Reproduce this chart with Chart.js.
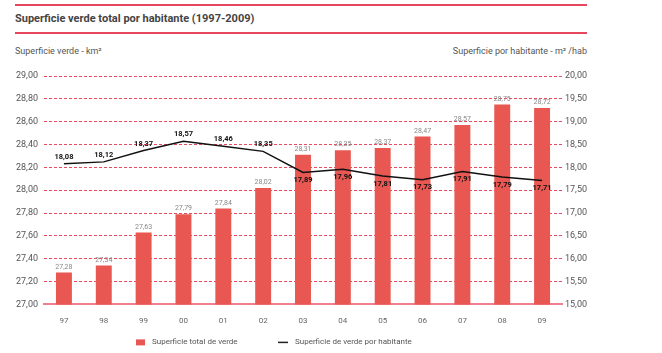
<!DOCTYPE html>
<html>
<head>
<meta charset="utf-8">
<script src="https://cdn.jsdelivr.net/npm/chart.js@4/dist/chart.umd.min.js"></script>
<style>
  html, body { margin: 0; padding: 0; background: #fff; }
  body { width: 662px; height: 353px; position: relative; overflow: hidden; font-family: Roboto, "Open Sans", sans-serif; }
  .rule { position: absolute; left: 15px; width: 572px; height: 2px; background: #e8465c; }
  #title { position: absolute; left: 15px; top: 12px; font-size: 11px; font-weight: bold; color: #444; }
  .axt { position: absolute; top: 46px; font-size: 9px; color: #555; }
  #wrap { position: absolute; left: 0; top: 0; width: 662px; height: 353px; }
</style>
</head>
<body>
<div class="rule" style="top:4px"></div>
<div id="title">Superficie verde total por habitante (1997-2009)</div>
<div class="rule" style="top:32px"></div>
<div class="axt" style="left:15px">Superficie verde - km²</div>
<div class="axt" style="right:75px">Superficie por habitante - m² /hab</div>
<div id="wrap"><canvas id="myChart" width="662" height="353"></canvas></div>
<script>
// x axis labels
var years = ['97','98','99','00','01','02','03','04','05','06','07','08','09'];
// total green surface (km2)
var verde = [27.28, 27.34, 27.63, 27.79, 27.84, 28.02, 28.31, 28.35, 28.37, 28.47, 28.57, 28.75, 28.72];
// green surface per inhabitant (m2/hab)
var porHab = [18.08, 18.12, 18.37, 18.57, 18.46, 18.35, 17.89, 17.96, 17.81, 17.73, 17.91, 17.79, 17.71];

var barColor = '#e85751';

function fmt(v) { return v.toFixed(2).replace('.', ','); }

// draws the value labels over bars and beside line points
var valueLabels = {
  id: 'valueLabels',
  afterDatasetsDraw: function(chart) {
    var ctx = chart.ctx;
    ctx.save();
    ctx.textAlign = 'center';
    var bars = chart.getDatasetMeta(0).data;
    ctx.font = '7px Roboto, sans-serif';
    ctx.fillStyle = '#888';
    ctx.textBaseline = 'bottom';
    bars.forEach(function(b, i) {
      ctx.fillText(fmt(verde[i]), b.x, b.y - 2);
    });
    var pts = chart.getDatasetMeta(1).data;
    ctx.font = 'bold 7.5px Roboto, sans-serif';
    ctx.fillStyle = '#111';
    pts.forEach(function(p, i) {
      if (i < 6) {
        ctx.textBaseline = 'bottom';
        ctx.fillText(fmt(porHab[i]), p.x, p.y - 3);
      } else {
        ctx.textBaseline = 'top';
        ctx.fillText(fmt(porHab[i]), p.x, p.y + 4);
      }
    });
    ctx.restore();
  }
};

// legend below the x axis, offset to the left like the original
var bottomLegend = {
  id: 'bottomLegend',
  afterDraw: function(chart) {
    var ctx = chart.ctx;
    var a = chart.chartArea;
    var y = a.bottom + 38;
    var x0 = a.left + 92;
    ctx.save();
    ctx.fillStyle = barColor;
    ctx.fillRect(x0, y - 3, 9, 6);
    ctx.font = '8px Roboto, sans-serif';
    ctx.fillStyle = '#555';
    ctx.textBaseline = 'middle';
    ctx.fillText('Superficie total de verde', x0 + 16, y);
    var x1 = x0 + 142;
    ctx.strokeStyle = '#222';
    ctx.lineWidth = 1.5;
    ctx.beginPath();
    ctx.moveTo(x1, y);
    ctx.lineTo(x1 + 10, y);
    ctx.stroke();
    ctx.fillText('Superficie de verde por habitante', x1 + 17, y);
    ctx.restore();
  }
};

Chart.defaults.font.family = 'Roboto, "Open Sans", sans-serif';
Chart.defaults.color = '#555';

var ctx = document.getElementById('myChart');
var myChart = new Chart(ctx, {
  data: {
    labels: years,
    datasets: [
      {
        type: 'bar',
        label: 'Superficie total de verde',
        data: verde,
        backgroundColor: barColor,
        yAxisID: 'y',
        categoryPercentage: 0.8,
        barPercentage: 0.5,
        order: 2
      },
      {
        type: 'line',
        label: 'Superficie de verde por habitante',
        data: porHab,
        borderColor: '#111',
        backgroundColor: '#111',
        borderWidth: 1.5,
        pointRadius: 0,
        tension: 0,
        yAxisID: 'y1',
        order: 1
      }
    ]
  },
  options: {
    responsive: false,
    animation: false,
    layout: { padding: { left: 15, right: 75, top: 76, bottom: 15 } },
    plugins: {
      tooltip: { enabled: false },
      legend: { display: false }
    },
    scales: {
      x: {
        grid: { display: false, drawTicks: false },
        border: { display: true, color: '#f27f8f', width: 2 },
        ticks: { color: '#666', font: { size: 8 }, padding: 12, maxRotation: 0, autoSkip: false }
      },
      y: {
        position: 'left',
        min: 27, max: 29,
        afterFit: function(s) { s.width = 29; },
        border: { display: false, dash: [3, 2] },
        grid: {
          drawTicks: false,
          color: function(c) { return c.tick && c.tick.value === 27 ? 'rgba(0,0,0,0)' : '#ea4a60'; },
          lineWidth: 1
        },
        ticks: { stepSize: 0.2, padding: 6, color: '#555', font: { size: 9 }, callback: function(v) { return fmt(v); } }
      },
      y1: {
        position: 'right',
        min: 15, max: 20,
        afterFit: function(s) { s.width = 25; },
        border: { display: false },
        grid: { display: false, drawTicks: false },
        ticks: { stepSize: 0.5, padding: 3, color: '#555', font: { size: 9 }, callback: function(v) { return fmt(v); } }
      }
    }
  },
  plugins: [valueLabels, bottomLegend]
});
</script>
</body>
</html>
